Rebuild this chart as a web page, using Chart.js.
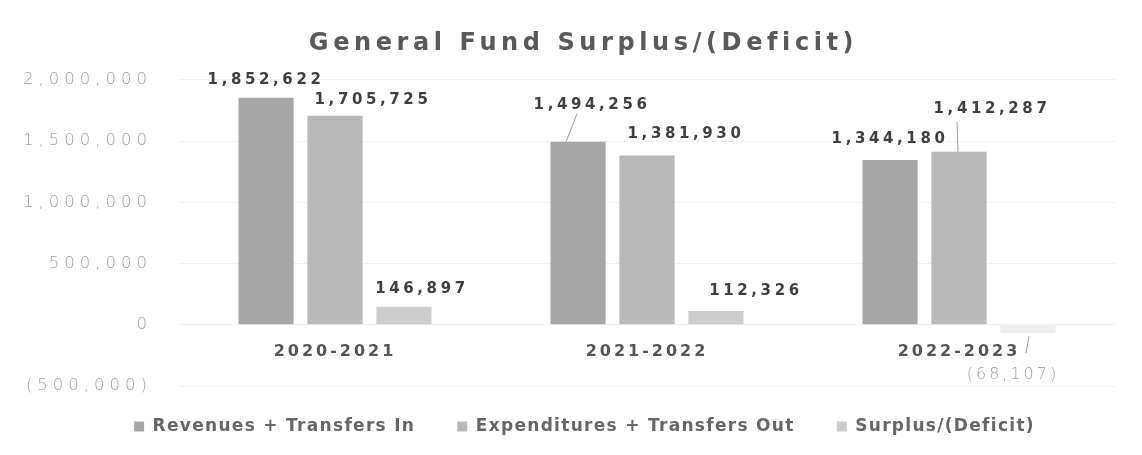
<!DOCTYPE html>
<html>
<head>
<meta charset="utf-8">
<script src="https://cdn.jsdelivr.net/npm/chart.js@4.4.1/dist/chart.umd.min.js"></script>
<style>
  html, body { margin: 0; padding: 0; background: #ffffff; }
  #wrap { width: 1142px; height: 455px; position: relative; }
</style>
</head>
<body>
<div id="wrap"><canvas id="c" width="1142" height="455"></canvas></div>
<script>
const categories = ['2020-2021', '2021-2022', '2022-2023'];
const seriesNames = ['Revenues + Transfers In', 'Expenditures + Transfers Out', 'Surplus/(Deficit)'];
const revenues = [1852622, 1494256, 1344180];
const expenditures = [1705725, 1381930, 1412287];
const surplus = [146897, 112326, -68107];
const yTicks = [-500000, 0, 500000, 1000000, 1500000, 2000000];
const titleText = 'General Fund Surplus/(Deficit)';

function fmt(v) {
  const s = Math.abs(v).toLocaleString('en-US');
  return v < 0 ? '(' + s + ')' : s;
}

// label placement relative to bar end: [dx, dy]
const labelOffsets = [
  [[0, -18], [14, -37], [0, -21]],
  [[38, -16], [39, -21], [33, -43]],
  [[18, -18], [40, -20], [-15, 42]]
];
// leader lines relative to bar end: [x1, y1, x2, y2]
const leaders = [
  [null, [-12, 0, -1, -28], null],
  [null, null, [-1, 0, -2, -30]],
  [null, null, [-2, 20, 1, 3]]
];

function wrapSpacing(obj, method, spacing, dx, dy, fixedHeight) {
  if (!obj || obj['_sp_' + method]) return;
  const orig = obj[method];
  obj[method] = function () {
    const c = this.ctx;
    c.save();
    c.letterSpacing = spacing;
    if (dx || dy) c.translate(dx || 0, dy || 0);
    const r = orig.apply(this, arguments);
    c.restore();
    if (fixedHeight) this.height = fixedHeight;
    return r;
  };
  obj['_sp_' + method] = true;
}

const spacingPlugin = {
  id: 'spacing',
  afterInit(chart) {
    wrapSpacing(chart.legend, 'fit', '1.3px', 0, 0, 61);
    wrapSpacing(chart.legend, 'draw', '1.3px', 27, -10);
    wrapSpacing(chart.titleBlock, 'draw', '4.6px', 26, 0);
  },
  beforeDraw(chart) {
    wrapSpacing(chart.scales.y, 'drawLabels', '5px');
    wrapSpacing(chart.scales.x, 'drawLabels', '3px');
  }
};

const valueLabels = {
  id: 'valueLabels',
  afterDatasetsDraw(chart) {
    const ctx = chart.ctx;
    chart.data.datasets.forEach((ds, di) => {
      const meta = chart.getDatasetMeta(di);
      meta.data.forEach((bar, i) => {
        const v = ds.data[i];
        const off = labelOffsets[di][i];
        const x = bar.x + off[0];
        const y = bar.y + off[1];
        ctx.save();
        ctx.textAlign = 'center';
        ctx.textBaseline = 'middle';
        if (v < 0) {
          ctx.font = '200 16px "DejaVu Sans"';
          ctx.fillStyle = '#a0a0a0';
          ctx.letterSpacing = '3px';
        } else {
          ctx.font = 'bold 15px "DejaVu Sans"';
          ctx.fillStyle = '#3f3f3f';
          ctx.letterSpacing = '3.6px';
        }
        ctx.fillText(fmt(v), x, y);
        const ln = leaders[di][i];
        if (ln) {
          ctx.strokeStyle = '#9a9a9a';
          ctx.lineWidth = 1;
          ctx.beginPath();
          ctx.moveTo(bar.x + ln[0], bar.y + ln[1]);
          ctx.lineTo(bar.x + ln[2], bar.y + ln[3]);
          ctx.stroke();
        }
        ctx.restore();
      });
    });
  }
};

new Chart(document.getElementById('c'), {
  type: 'bar',
  data: {
    labels: categories,
    datasets: [
      { label: seriesNames[0], data: revenues, backgroundColor: '#a7a7a7' },
      { label: seriesNames[1], data: expenditures, backgroundColor: '#b9b9b9' },
      {
        label: seriesNames[2], data: surplus,
        backgroundColor: c => (c.raw !== undefined && c.raw < 0) ? '#eeeeee' : '#cdcdcd'
      }
    ]
  },
  options: {
    responsive: false,
    animation: false,
    devicePixelRatio: 1,
    layout: { padding: { top: 0, left: 0, right: 27, bottom: 8 } },
    datasets: { bar: { categoryPercentage: 0.663, barPercentage: 0.8 } },
    scales: {
      x: {
        position: { y: 0 },
        grid: { display: false, drawTicks: false },
        border: { display: false },
        ticks: {
          padding: 17,
          color: '#555555',
          font: { family: '"DejaVu Sans"', size: 16, weight: 'bold' }
        }
      },
      y: {
        min: -500000,
        max: 2000000,
        afterBuildTicks(scale) { scale.ticks = yTicks.map(v => ({ value: v })); },
        afterFit(scale) { scale.width = 179; },
        grid: { color: '#f1f1f1', drawTicks: false },
        border: { display: false },
        ticks: {
          padding: 27,
          color: '#a0a0a0',
          font: { family: '"DejaVu Sans"', size: 16.5, weight: '200' },
          callback: v => fmt(v)
        }
      }
    },
    plugins: {
      title: {
        display: true,
        text: titleText,
        color: '#595959',
        font: { family: '"DejaVu Sans"', size: 24, weight: 'bold', lineHeight: 1.2 },
        padding: { top: 29, bottom: 22 }
      },
      legend: {
        position: 'bottom',
        labels: {
          boxWidth: 10,
          boxHeight: 10,
          padding: 42,
          color: '#666666',
          font: { family: '"DejaVu Sans"', size: 17, weight: 'bold' }
        }
      },
      tooltip: { enabled: false }
    }
  },
  plugins: [spacingPlugin, valueLabels]
});
</script>
</body>
</html>
